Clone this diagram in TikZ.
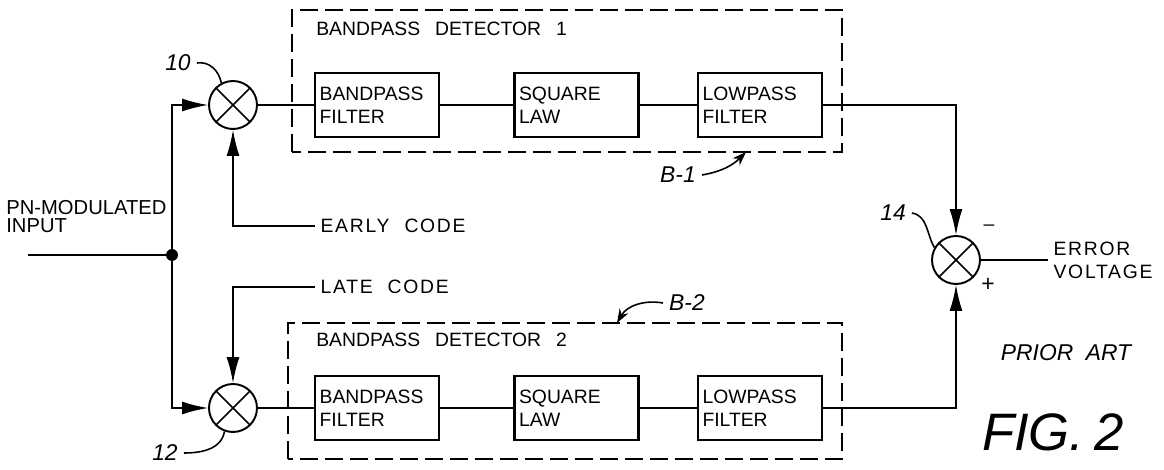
\documentclass[tikz,border=0pt]{standalone}
\usepackage{fontspec}
\setmainfont{Liberation Sans}
\newfontfamily\lblfont{Liberation Sans}[LetterSpace=9]
\usetikzlibrary{positioning,arrows.meta}

\begin{document}
\begin{tikzpicture}[x=0.02cm, y=0.02cm,
  every node/.style={font=\fontsize{11}{13}\selectfont},
  block/.style={draw, line width=1.4pt, minimum width=2.48cm, minimum height=1.28cm, text width=2.3cm, align=left, inner sep=1pt},
  mixer/.style={draw, circle, line width=1.1pt, minimum size=0.96cm, inner sep=0pt,
    path picture={\draw[line width=0.9pt] (path picture bounding box.north west) -- (path picture bounding box.south east)
      (path picture bounding box.north east) -- (path picture bounding box.south west);}},
  sig/.style={line width=0.9pt},
  arr/.style={sig, -{Latex[length=5.2mm, width=2.6mm]}},
  tag/.style={sig, -{Stealth[length=2.8mm, width=2mm]}},
  detbox/.style={line width=0.8pt, dash pattern=on 0.36cm off 0.14cm},
  lbl/.style={font=\fontsize{11}{13}\lblfont},
  ref/.style={font=\fontsize{13}{15}\selectfont\itshape}]
	\useasboundingbox (0,0) rectangle (1164,470);
	\draw[detbox] (292,318) rectangle (842,460);
	\draw[detbox] (288,11) rectangle (842,147);
	\node[anchor=base west, inner sep=0pt] (det1) at (316,434) {BANDPASS\hspace{0.3cm}DETECTOR\hspace{0.3cm}1};
	\node[anchor=base west, inner sep=0pt] (det2) at (316,123) {BANDPASS\hspace{0.3cm}DETECTOR\hspace{0.3cm}2};
	\node[mixer] (mix1) at (233,365) {};
	\node[block, right=1.12cm of mix1] (bpf1) {BANDPASS\\FILTER};
	\node[block, right=1.46cm of bpf1] (sq1) {SQUARE\\LAW};
	\node[block, right=1.14cm of sq1] (lpf1) {LOWPASS\\FILTER};
	\node[mixer] (mix2) at (233,62) {};
	\node[block, right=1.12cm of mix2] (bpf2) {BANDPASS\\FILTER};
	\node[block, right=1.46cm of bpf2] (sq2) {SQUARE\\LAW};
	\node[block, right=1.14cm of sq2] (lpf2) {LOWPASS\\FILTER};
	\node[mixer] (mix3) at (956,210) {};
	\node[circle, fill, inner sep=0pt, minimum size=0.24cm] (tap) at (172,215) {};
	\coordinate (src) at (28,215);
	\node[anchor=south west, align=left, inner sep=0pt, font=\fontsize{11.5}{10}\selectfont] (inlbl) at (6,237) {PN-MODULATED\\INPUT};
	\node[lbl, anchor=west, inner sep=3pt] (early) at (315,244) {EARLY\hspace{0.3cm}CODE};
	\node[lbl, anchor=west, inner sep=3pt] (late) at (315,183) {LATE\hspace{0.3cm}CODE};
	\node[lbl, anchor=west, align=left, inner sep=3pt] (err) at (1048,210) {ERROR\\VOLTAGE};
	\node (minus) at (989,242) {\textendash};
	\node (plus) at (988,185) {\fontsize{13}{15}\selectfont +};
	\draw[sig] (src) -- (tap);
	\draw[arr] (tap) |- (mix1);
	\draw[arr] (tap) |- (mix2);
	\draw[arr] (early.west) -| (mix1);
	\draw[arr] (late.west) -| (mix2);
	\draw[sig] (mix1) -- (bpf1);
	\draw[sig] (bpf1) -- (sq1);
	\draw[sig] (sq1) -- (lpf1);
	\draw[sig] (mix2) -- (bpf2);
	\draw[sig] (bpf2) -- (sq2);
	\draw[sig] (sq2) -- (lpf2);
	\draw[arr] (lpf1) -| (mix3);
	\draw[arr] (lpf2) -| (mix3);
	\draw[sig] (mix3) -- (err.west);
	\node[ref] (n10) at (178,407) {10};
	\draw[sig] (n10.east) to[out=10, in=100] (mix1.118);
	\node[ref] (n12) at (165,17) {12};
	\draw[sig] (n12.east) to[out=0, in=-100] (mix2.250);
	\node[ref] (n14) at (893,257) {14};
	\draw[sig] (n14.east) to[out=-10, in=120] (mix3.150);
	\node[ref] (b1) at (678,295) {B-1};
	\coordinate (b1tip) at (746,318);
	\draw[tag] (b1.east) to[out=10, in=-135] (b1tip);
	\node[ref] (b2) at (687,167) {B-2};
	\coordinate (b2tip) at (617,147);
	\draw[tag] (b2.west) to[out=170, in=60] (b2tip);
	\node[ref] (prior) at (1066,117) {PRIOR\hspace{0.25cm}ART};
	\node[font=\fontsize{30}{34}\selectfont\itshape] (fig) at (1053,38) {FIG.\hspace{0.2cm}2};
\end{tikzpicture}
\end{document}
